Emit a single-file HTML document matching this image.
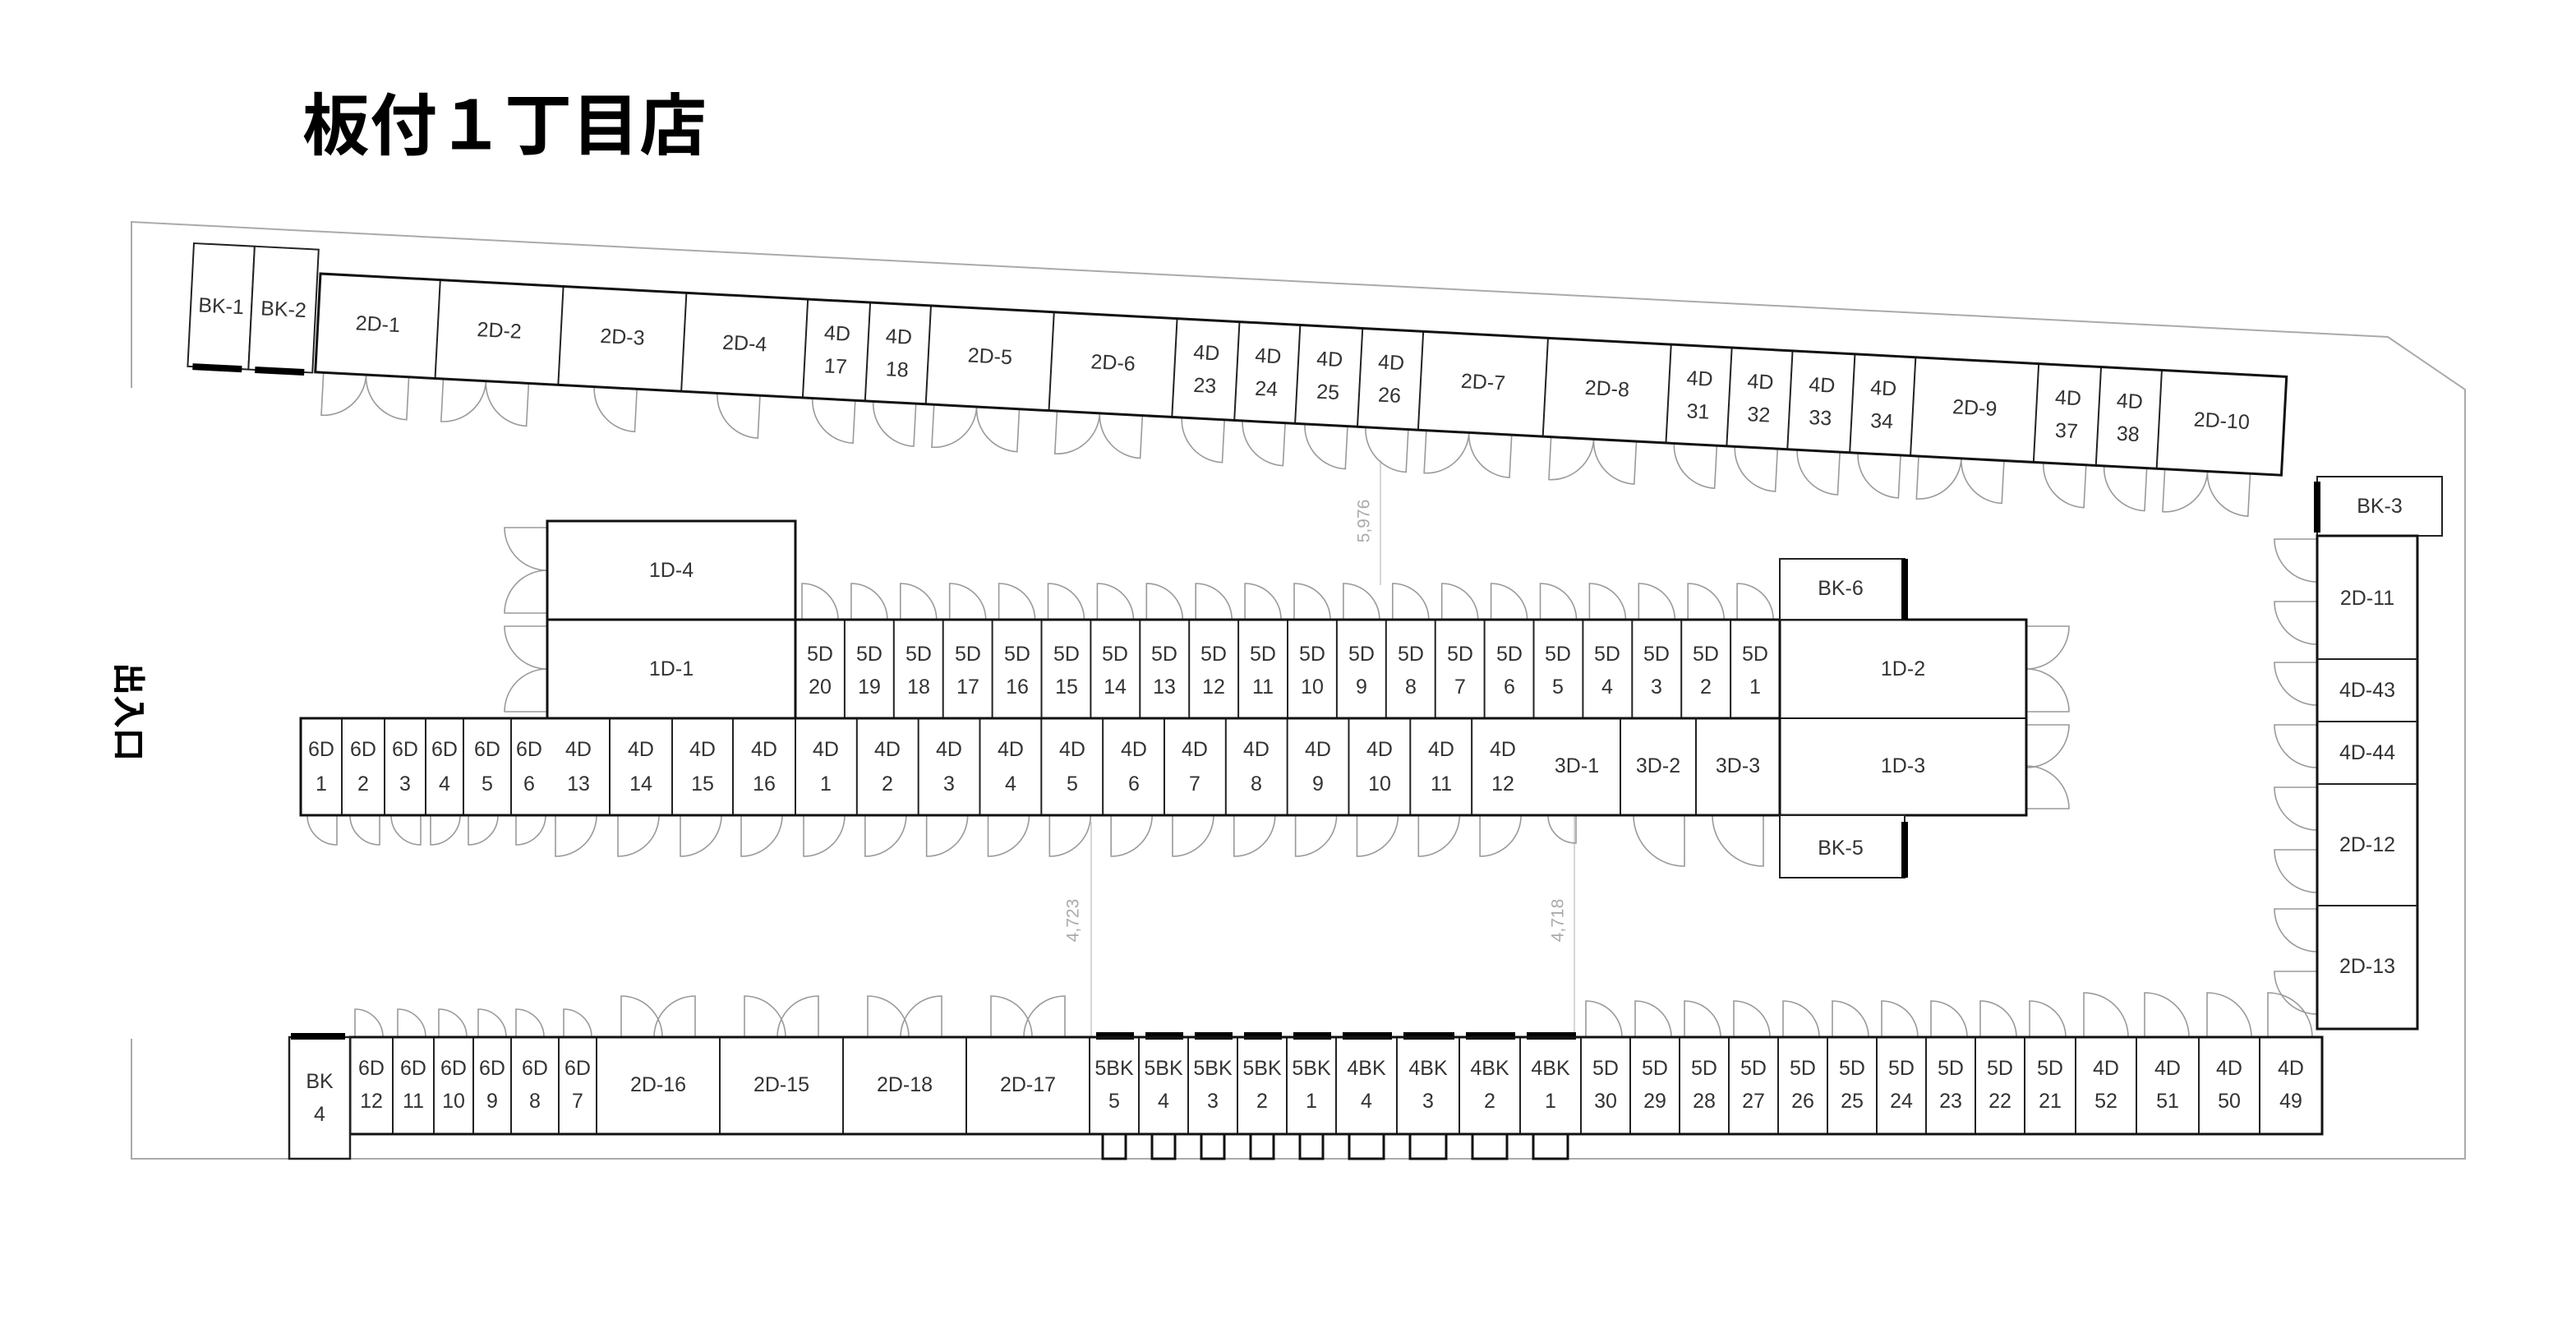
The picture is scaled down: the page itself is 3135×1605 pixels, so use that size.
<!DOCTYPE html>
<html><head><meta charset="utf-8"><style>
html,body{margin:0;padding:0;background:#fff;}
svg{display:block;}
text{font-family:"Liberation Sans","Noto Sans CJK JP",sans-serif;fill:#333;font-size:25px;text-anchor:middle;dominant-baseline:central;}
.c{fill:#fff;stroke:#222;stroke-width:2;}
.o{fill:none;stroke:#111;stroke-width:3;}
.d{fill:none;stroke:#9a9a9a;stroke-width:1.6;}
.b{fill:#000;}
.dim{font-size:21px;fill:#aaa;}
</style></head><body>
<svg width="3135" height="1605" viewBox="0 0 3135 1605" xmlns="http://www.w3.org/2000/svg">
<rect width="3135" height="1605" fill="#fff"/>
<text x="614" y="146" style="font-family:'Noto Sans CJK JP',sans-serif;font-weight:bold;font-size:82px;fill:#000;">板付１丁目店</text>
<text x="160" y="866" transform="rotate(90 160 866)" style="font-family:'Noto Sans CJK JP',sans-serif;font-weight:bold;font-size:40px;fill:#000;">出入口</text>
<path d="M160,472 L160,270 L2906,410 L3000,474 L3000,1410 L160,1410 L160,1264" fill="none" stroke="#aaa" stroke-width="2"/>
<g stroke="#c8c8c8" stroke-width="1.5"><line x1="1680" y1="560" x2="1680" y2="712"/><line x1="1328" y1="1000" x2="1328" y2="1262"/><line x1="1916" y1="992" x2="1916" y2="1262"/></g>
<text class="dim" x="1660" y="634" transform="rotate(-90 1660 634)">5,976</text>
<text class="dim" x="1306" y="1120" transform="rotate(-90 1306 1120)">4,723</text>
<text class="dim" x="1896" y="1120" transform="rotate(-90 1896 1120)">4,718</text>
<g id="doors"></g>

<!-- BK-1/2 -->
<g transform="translate(236,296) rotate(2.9)">
<rect class="c" x="0" y="0" width="74" height="150"/><rect class="c" x="74" y="0" width="78" height="150"/>
<rect class="b" x="6" y="146" width="60" height="8"/><rect class="b" x="82" y="146" width="60" height="8"/>
<text x="37" y="75">BK-1</text><text x="113" y="75">BK-2</text>
</g>
<!-- top row -->
<g id="top" transform="translate(390,333) rotate(3.0)">
<g id="topcells"></g>
<rect class="o" x="0" y="0" width="2396" height="120"/>
<text x="73" y="58">2D-1</text><text x="221" y="58">2D-2</text><text x="371" y="58">2D-3</text><text x="520" y="58">2D-4</text>
<text x="632" y="40">4D</text><text x="632" y="80">17</text><text x="707" y="40">4D</text><text x="707" y="80">18</text>
<text x="819" y="58">2D-5</text><text x="969" y="58">2D-6</text>
<text x="1082" y="40">4D</text><text x="1082" y="80">23</text><text x="1157" y="40">4D</text><text x="1157" y="80">24</text>
<text x="1232" y="40">4D</text><text x="1232" y="80">25</text><text x="1307" y="40">4D</text><text x="1307" y="80">26</text>
<text x="1420" y="58">2D-7</text><text x="1571" y="58">2D-8</text>
<text x="1683" y="40">4D</text><text x="1683" y="80">31</text><text x="1757" y="40">4D</text><text x="1757" y="80">32</text>
<text x="1832" y="40">4D</text><text x="1832" y="80">33</text><text x="1907" y="40">4D</text><text x="1907" y="80">34</text>
<text x="2019" y="58">2D-9</text>
<text x="2132" y="40">4D</text><text x="2132" y="80">37</text><text x="2207" y="40">4D</text><text x="2207" y="80">38</text>
<text x="2320" y="58">2D-10</text>
</g>

<!-- middle block -->
<g id="midcells"></g>
<rect class="o" x="666" y="634" width="302" height="120"/>
<rect class="o" x="666" y="754" width="302" height="120"/>
<rect class="o" x="968" y="754" width="1198" height="120"/>
<rect class="o" x="366" y="874" width="1800" height="118"/>
<rect class="o" x="2166" y="754" width="300" height="238"/>
<line x1="2166" y1="874" x2="2466" y2="874" stroke="#111" stroke-width="2"/>
<rect class="c" x="2166" y="680" width="152" height="74"/><rect class="b" x="2314" y="680" width="8" height="74"/>
<rect class="c" x="2166" y="992" width="152" height="76"/><rect class="b" x="2314" y="1000" width="8" height="68"/>
<text x="817" y="694">1D-4</text><text x="817" y="814">1D-1</text><text x="2316" y="814">1D-2</text><text x="2316" y="932">1D-3</text>
<text x="2240" y="716">BK-6</text><text x="2240" y="1032">BK-5</text>
<text x="998" y="796">5D</text><text x="998" y="836">20</text>
<text x="1058" y="796">5D</text><text x="1058" y="836">19</text>
<text x="1118" y="796">5D</text><text x="1118" y="836">18</text>
<text x="1178" y="796">5D</text><text x="1178" y="836">17</text>
<text x="1238" y="796">5D</text><text x="1238" y="836">16</text>
<text x="1298" y="796">5D</text><text x="1298" y="836">15</text>
<text x="1357" y="796">5D</text><text x="1357" y="836">14</text>
<text x="1417" y="796">5D</text><text x="1417" y="836">13</text>
<text x="1477" y="796">5D</text><text x="1477" y="836">12</text>
<text x="1537" y="796">5D</text><text x="1537" y="836">11</text>
<text x="1597" y="796">5D</text><text x="1597" y="836">10</text>
<text x="1657" y="796">5D</text><text x="1657" y="836">9</text>
<text x="1717" y="796">5D</text><text x="1717" y="836">8</text>
<text x="1777" y="796">5D</text><text x="1777" y="836">7</text>
<text x="1837" y="796">5D</text><text x="1837" y="836">6</text>
<text x="1896" y="796">5D</text><text x="1896" y="836">5</text>
<text x="1956" y="796">5D</text><text x="1956" y="836">4</text>
<text x="2016" y="796">5D</text><text x="2016" y="836">3</text>
<text x="2076" y="796">5D</text><text x="2076" y="836">2</text>
<text x="2136" y="796">5D</text><text x="2136" y="836">1</text>
<text x="391" y="912">6D</text><text x="391" y="954">1</text>
<text x="442" y="912">6D</text><text x="442" y="954">2</text>
<text x="493" y="912">6D</text><text x="493" y="954">3</text>
<text x="541" y="912">6D</text><text x="541" y="954">4</text>
<text x="593" y="912">6D</text><text x="593" y="954">5</text>
<text x="644" y="912">6D</text><text x="644" y="954">6</text>
<text x="704" y="912">4D</text><text x="704" y="954">13</text>
<text x="780" y="912">4D</text><text x="780" y="954">14</text>
<text x="855" y="912">4D</text><text x="855" y="954">15</text>
<text x="930" y="912">4D</text><text x="930" y="954">16</text>
<text x="1005" y="912">4D</text><text x="1005" y="954">1</text>
<text x="1080" y="912">4D</text><text x="1080" y="954">2</text>
<text x="1155" y="912">4D</text><text x="1155" y="954">3</text>
<text x="1230" y="912">4D</text><text x="1230" y="954">4</text>
<text x="1305" y="912">4D</text><text x="1305" y="954">5</text>
<text x="1380" y="912">4D</text><text x="1380" y="954">6</text>
<text x="1454" y="912">4D</text><text x="1454" y="954">7</text>
<text x="1529" y="912">4D</text><text x="1529" y="954">8</text>
<text x="1604" y="912">4D</text><text x="1604" y="954">9</text>
<text x="1679" y="912">4D</text><text x="1679" y="954">10</text>
<text x="1754" y="912">4D</text><text x="1754" y="954">11</text>
<text x="1829" y="912">4D</text><text x="1829" y="954">12</text>
<text x="1919" y="932">3D-1</text><text x="2018" y="932">3D-2</text><text x="2115" y="932">3D-3</text>

<!-- right column -->
<rect class="c" x="2820" y="580" width="152" height="72"/><rect class="b" x="2816" y="586" width="8" height="62"/>
<rect class="o" x="2820" y="652" width="122" height="600"/>
<g stroke="#222" stroke-width="2"><line x1="2820" y1="802" x2="2942" y2="802"/><line x1="2820" y1="878" x2="2942" y2="878"/><line x1="2820" y1="954" x2="2942" y2="954"/><line x1="2820" y1="1102" x2="2942" y2="1102"/></g>
<text x="2896" y="616">BK-3</text><text x="2881" y="728">2D-11</text><text x="2881" y="840">4D-43</text><text x="2881" y="916">4D-44</text><text x="2881" y="1028">2D-12</text><text x="2881" y="1176">2D-13</text>

<!-- bottom row -->
<g id="botcells"></g>
<rect class="o" x="426" y="1262" width="2400" height="118"/>
<rect class="c" x="352" y="1262" width="74" height="148" style="stroke-width:2.5"/><rect class="b" x="354" y="1257" width="66" height="8"/>
<text x="389" y="1316">BK</text><text x="389" y="1356">4</text>
<path id="notch" class="o" d=""/>
<text x="452" y="1300">6D</text><text x="452" y="1340">12</text>
<text x="503" y="1300">6D</text><text x="503" y="1340">11</text>
<text x="552" y="1300">6D</text><text x="552" y="1340">10</text>
<text x="599" y="1300">6D</text><text x="599" y="1340">9</text>
<text x="651" y="1300">6D</text><text x="651" y="1340">8</text>
<text x="703" y="1300">6D</text><text x="703" y="1340">7</text>
<text x="801" y="1320">2D-16</text><text x="951" y="1320">2D-15</text><text x="1101" y="1320">2D-18</text><text x="1251" y="1320">2D-17</text>
<text x="1356" y="1300">5BK</text><text x="1356" y="1340">5</text>
<text x="1416" y="1300">5BK</text><text x="1416" y="1340">4</text>
<text x="1476" y="1300">5BK</text><text x="1476" y="1340">3</text>
<text x="1536" y="1300">5BK</text><text x="1536" y="1340">2</text>
<text x="1596" y="1300">5BK</text><text x="1596" y="1340">1</text>
<text x="1663" y="1300">4BK</text><text x="1663" y="1340">4</text>
<text x="1738" y="1300">4BK</text><text x="1738" y="1340">3</text>
<text x="1813" y="1300">4BK</text><text x="1813" y="1340">2</text>
<text x="1887" y="1300">4BK</text><text x="1887" y="1340">1</text>
<text x="1954" y="1300">5D</text><text x="1954" y="1340">30</text>
<text x="2014" y="1300">5D</text><text x="2014" y="1340">29</text>
<text x="2074" y="1300">5D</text><text x="2074" y="1340">28</text>
<text x="2134" y="1300">5D</text><text x="2134" y="1340">27</text>
<text x="2194" y="1300">5D</text><text x="2194" y="1340">26</text>
<text x="2254" y="1300">5D</text><text x="2254" y="1340">25</text>
<text x="2314" y="1300">5D</text><text x="2314" y="1340">24</text>
<text x="2374" y="1300">5D</text><text x="2374" y="1340">23</text>
<text x="2434" y="1300">5D</text><text x="2434" y="1340">22</text>
<text x="2495" y="1300">5D</text><text x="2495" y="1340">21</text>
<text x="2563" y="1300">4D</text><text x="2563" y="1340">52</text>
<text x="2638" y="1300">4D</text><text x="2638" y="1340">51</text>
<text x="2713" y="1300">4D</text><text x="2713" y="1340">50</text>
<text x="2788" y="1300">4D</text><text x="2788" y="1340">49</text>
</svg>
<script>
var NS="http://www.w3.org/2000/svg";
function add(p,t,a){var e=document.createElementNS(NS,t);for(var k in a)e.setAttribute(k,a[k]);p.appendChild(e);return e;}
var D=document.getElementById("doors");
function dn(g,hx,y,r,d){add(g,"path",{"class":"d",d:"M"+hx+","+y+" L"+hx+","+(y+r)+" A"+r+" "+r+" 0 0 "+(d>0?0:1)+" "+(hx+d*r)+","+y});}
function up(g,hx,y,r,d){add(g,"path",{"class":"d",d:"M"+hx+","+y+" L"+hx+","+(y-r)+" A"+r+" "+r+" 0 0 "+(d>0?1:0)+" "+(hx+d*r)+","+y});}
function lf(g,x,hy,r,d){add(g,"path",{"class":"d",d:"M"+x+","+hy+" L"+(x-r)+","+hy+" A"+r+" "+r+" 0 0 "+(d>0?0:1)+" "+x+","+(hy+d*r)});}
function rt(g,x,hy,r,d){add(g,"path",{"class":"d",d:"M"+x+","+hy+" L"+(x+r)+","+hy+" A"+r+" "+r+" 0 0 "+(d>0?1:0)+" "+x+","+(hy+d*r)});}
function vl(g,x,y1,y2){add(g,"line",{x1:x,y1:y1,x2:x,y2:y2,stroke:"#222","stroke-width":2});}
// top row
var T=document.getElementById("topcells");
var H=120;
var tx=[0,146,296,446,594,670,744,894,1044,1120,1194,1270,1344,1496,1646,1720,1794,1870,1944,2094,2170,2244,2396];
var tt=["2","2","1","1","4","4","2","2","4","4","4","4","2","2","4","4","4","4","2","4","4","2"];
for(var i=0;i<tt.length;i++){var a=tx[i],b=tx[i+1];if(i>0)vl(T,a,0,H);
 if(tt[i]=="2"){dn(T,a+10,H,52,1);dn(T,a+114,H,52,-1);}
 else if(tt[i]=="1"){dn(T,a+96,H,52,-1);}
 else{dn(T,b-12,H,52,-1);}}
// middle
var M=document.getElementById("midcells");
for(var i=1;i<20;i++)vl(M,968+i*59.9,754,874);
for(var i=0;i<20;i++)up(D,968+i*59.9+8,754,44,1);
var r6=[366,416,468,518,564,622,666];
for(var i=1;i<6;i++)vl(M,r6[i],874,992);
var d6=[-1,-1,-1,1,1,1];
for(var i=0;i<6;i++){var a=r6[i],b=r6[i+1];if(d6[i]<0)dn(D,b-6,992,36,-1);else dn(D,a+6,992,36,1);}
var r4=[666,742,818,892,968];for(var i=0;i<12;i++)r4.push(968+(i+1)*74.83);
for(var i=1;i<r4.length-1;i++)vl(M,r4[i],874,992);
for(var i=0;i<r4.length-1;i++){dn(D,r4[i]+10,992,50,1);}
vl(M,1972,874,992);vl(M,2064,874,992);
dn(D,1918,992,34,-1);dn(D,2050,992,62,-1);dn(D,2146,992,62,-1);
lf(D,666,642,52,1);lf(D,666,746,52,-1);lf(D,666,762,52,1);lf(D,666,866,52,-1);
rt(D,2466,762,52,1);rt(D,2466,866,52,-1);rt(D,2466,882,52,1);rt(D,2466,984,52,-1);
// right column doors
[652,728,802,878,954,1030,1102,1178].forEach(function(y){lf(D,2820,y+4,52,1);});
// bottom
var B=document.getElementById("botcells");
var bx=[426,478,528,576,622,680,726,876,1026,1176,1326,1386,1446,1506,1566,1626,1700,1776,1850,1924,1984,2044,2104,2164,2224,2284,2344,2404,2464,2526,2600,2676,2750,2826];
for(var i=1;i<bx.length-1;i++)vl(B,bx[i],1262,1380);
for(var i=0;i<6;i++)up(D,bx[i]+6,1262,34,1);
for(var i=6;i<10;i++){up(D,bx[i]+30,1262,50,1);up(D,bx[i+1]-30,1262,50,-1);}
var nd="M1326,1380";
for(var i=10;i<19;i++){var a=bx[i],b=bx[i+1];nd+=" L"+(a+16)+",1380 L"+(a+16)+",1410 L"+(b-16)+",1410 L"+(b-16)+",1380";
 add(B,"rect",{"class":"b",x:a+8,y:1256,width:b-a-14,height:9});}
nd+=" L1924,1380";document.getElementById("notch").setAttribute("d",nd);
for(var i=19;i<29;i++)up(D,bx[i]+6,1262,44,1);
for(var i=29;i<33;i++)up(D,bx[i]+10,1262,54,1);
</script>
</body></html>
